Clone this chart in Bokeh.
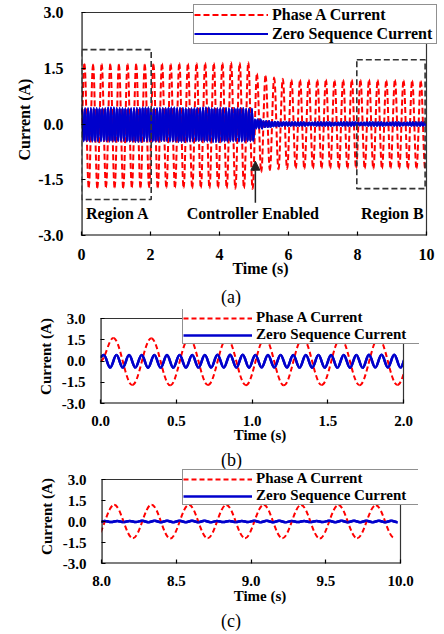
from bokeh.plotting import figure
from bokeh.models import (Legend, LegendItem, Arrow, NormalHead, FixedTicker, Div,
                          Range1d, PrintfTickFormatter)
from bokeh.embed import file_html
from bokeh.resources import INLINE
from bokeh.core.properties import value

# ---------------- data ----------------
FREQ_A = 4.0          # Hz, phase A current
FREQ_Z = 12.0         # Hz, zero sequence current
A_FIRST_PEAK = 0.085  # s
Z_FIRST_PEAK = 0.022  # s
BLOCK = 0.25          # s, one phase-A cycle

# phase A positive peaks, one per cycle (40 cycles over 10 s)
phase_a_peaks = [1.62, 1.60, 1.62, 1.61, 1.60, 1.62, 1.61, 1.60,
                 1.61, 1.63, 1.62, 1.64, 1.63, 1.64, 1.65, 1.64, 1.65, 1.66, 1.65, 1.66,
                 1.36, 1.30, 1.25, 1.22, 1.20, 1.19, 1.20, 1.19, 1.20, 1.18,
                 1.19, 1.20, 1.19, 1.20, 1.19, 1.18, 1.19, 1.18, 1.17, 1.16]
# phase A negative peaks, one per cycle
phase_a_troughs = [-1.70, -1.72, -1.70, -1.71, -1.72, -1.70, -1.71, -1.70,
                   -1.71, -1.72, -1.71, -1.72, -1.73, -1.72, -1.73, -1.72, -1.73, -1.74, -1.73, -1.75,
                   -1.30, -1.24, -1.22, -1.21, -1.20, -1.21, -1.20, -1.19, -1.20, -1.21,
                   -1.20, -1.19, -1.20, -1.21, -1.20, -1.19, -1.20, -1.21, -1.20, -1.19]
# zero sequence envelope, one value per 0.25 s block
zero_peaks = [0.42, 0.43, 0.42, 0.44, 0.43, 0.42, 0.43, 0.44, 0.42, 0.43,
              0.44, 0.43, 0.42, 0.43, 0.44, 0.42, 0.43, 0.42, 0.43, 0.41,
              0.12, 0.08, 0.06, 0.05, 0.05, 0.05, 0.04, 0.05, 0.05, 0.04,
              0.05, 0.05, 0.04, 0.05, 0.05, 0.04, 0.05, 0.04, 0.05, 0.05]
zero_troughs = [-0.46, -0.47, -0.46, -0.47, -0.46, -0.47, -0.48, -0.46, -0.47, -0.46,
                -0.47, -0.48, -0.47, -0.46, -0.47, -0.48, -0.47, -0.46, -0.47, -0.46,
                -0.12, -0.08, -0.06, -0.05, -0.05, -0.05, -0.04, -0.05, -0.05, -0.04,
                -0.05, -0.05, -0.04, -0.05, -0.05, -0.04, -0.05, -0.04, -0.05, -0.05]

region_a = dict(left=0.0, right=2.02, bottom=-2.03, top=2.0)
region_b = dict(left=7.98, right=9.96, bottom=-1.74, top=1.73)
annot_labels = ["Region A", "Controller Enabled", "Region B"]
annot_x = [1.05, 4.97, 9.01]
annot_y = [-2.41, -2.41, -2.41]
arrow_x, arrow_y0, arrow_y1 = 5.04, -2.12, -1.0

y_ticks = [-3.0, -1.5, 0.0, 1.5, 3.0]
x_ticks_a = [0, 2, 4, 6, 8, 10]
x_ticks_b = [0.0, 0.5, 1.0, 1.5, 2.0]
x_ticks_c = [8.0, 8.5, 9.0, 9.5, 10.0]
captions = ["(a)", "(b)", "(c)"]

RED = "#FF0000"
BLUE = "#0000CC"
FONT = "Liberation Serif"


# ---------------- extrema sequences ----------------
def phase_a_extrema():
    t, v = [0.0], [0.0]
    half = 0.5 / FREQ_A
    for k in range(len(phase_a_peaks)):
        tp = A_FIRST_PEAK + k / FREQ_A
        t += [tp, tp + half]
        v += [phase_a_peaks[k], phase_a_troughs[k]]
    return t, v


def zero_extrema():
    t, v = [0.0], [0.3]
    half = 0.5 / FREQ_Z
    n = int(10 * FREQ_Z)
    for j in range(n):
        tp = Z_FIRST_PEAK + j / FREQ_Z
        b = min(int(tp / BLOCK), len(zero_peaks) - 1)
        bt = min(int((tp + half) / BLOCK), len(zero_troughs) - 1)
        t += [tp, tp + half]
        v += [zero_peaks[b], zero_troughs[bt]]
    return t, v


def bezier_cols(t, v, lo, hi):
    k = 0.3634
    cols = dict(x0=[], y0=[], x1=[], y1=[], cx0=[], cy0=[], cx1=[], cy1=[])
    for i in range(len(t) - 1):
        if t[i + 1] < lo or t[i] > hi:
            continue
        dt = t[i + 1] - t[i]
        cols["x0"].append(t[i]); cols["y0"].append(v[i])
        cols["x1"].append(t[i + 1]); cols["y1"].append(v[i + 1])
        cols["cx0"].append(t[i] + k * dt); cols["cy0"].append(v[i])
        cols["cx1"].append(t[i + 1] - k * dt); cols["cy1"].append(v[i + 1])
    return cols


A_EXT = phase_a_extrema()
Z_EXT = zero_extrema()


def make_panel(height, xr, xticks, xfmt, box, frame_ext, fs,
               legend_loc, leg_glyph_w, leg_label_w, leg_row_h, red_dash, red_w, blue_w,
               tick_standoff, xlab_standoff, ylab_standoff, ytick_standoff):
    # box: pixel edges of the real axes box (left, right, top, bottom) inside this figure
    # frame_ext: pixel (right, top) of the enlarged drawing frame that also holds the legend
    left, right, top, bottom = box
    ext_right, ext_top = frame_ext
    x0, x1 = xr
    xmax = x0 + (x1 - x0) * (ext_right - left) / (right - left)
    ymax = -3 + 6 * (bottom - ext_top) / (bottom - top)
    p = figure(width=444, height=height, output_backend="svg", toolbar_location=None,
               x_range=Range1d(x0, xmax), y_range=Range1d(-3, ymax),
               min_border_left=left, min_border_right=444 - ext_right,
               min_border_top=ext_top, min_border_bottom=height - bottom)
    p.grid.visible = False
    p.outline_line_color = None

    zb = bezier_cols(*Z_EXT, x0, x1)
    ab = bezier_cols(*A_EXT, x0, x1)
    rz = p.bezier(source=dict(zb), x0="x0", y0="y0", x1="x1", y1="y1",
                  cx0="cx0", cy0="cy0", cx1="cx1", cy1="cy1",
                  line_color=BLUE, line_width=blue_w)
    ra = p.bezier(source=dict(ab), x0="x0", y0="y0", x1="x1", y1="y1",
                  cx0="cx0", cy0="cy0", cx1="cx1", cy1="cy1",
                  line_color=RED, line_width=red_w, line_dash=red_dash)
    p.bezier(source=dict(zb), x0="x0", y0="y0", x1="x1", y1="y1",
             cx0="cx0", cy0="cy0", cx1="cx1", cy1="cy1",
             line_color=BLUE, line_width=blue_w)

    # white mask beyond the right end of the time axis
    p.quad(left=[x1], right=[x1 + (x1 - x0)], bottom=[-10], top=[10],
           fill_color="white", line_color="white", line_width=1)
    # axes box
    p.segment(x0=[x0, x0], y0=[-3, -3], x1=[x1, x0], y1=[-3, 3],
              line_color="black", line_width=2.2)
    p.segment(x0=[x0, x1], y0=[3, -3], x1=[x1, x1], y1=[3, 3],
              line_color="#333333", line_width=1.2)

    for ax in (p.xaxis[0], p.yaxis[0]):
        ax.major_tick_in = 4
        ax.major_tick_out = 0
        ax.minor_tick_line_color = None
        ax.major_tick_line_width = 1.2
        ax.axis_line_color = None
        ax.major_label_text_font = FONT
        ax.major_label_text_font_style = "bold"
        ax.major_label_text_font_size = f"{fs}px"
        ax.major_label_text_color = "black"
        ax.axis_label_text_font = FONT
        ax.axis_label_text_font_style = "bold"
        ax.axis_label_text_font_size = f"{fs}px"
        ax.axis_label_text_color = "black"

    p.xaxis.ticker = FixedTicker(ticks=xticks)
    p.xaxis.formatter = PrintfTickFormatter(format=xfmt)
    p.xaxis.axis_label = "Time (s)"
    p.xaxis.major_label_standoff = tick_standoff
    p.xaxis.axis_label_standoff = xlab_standoff

    p.yaxis.ticker = FixedTicker(ticks=y_ticks)
    p.yaxis.formatter = PrintfTickFormatter(format="%.1f")
    p.yaxis.axis_label = "Current (A)"
    p.yaxis.major_label_standoff = ytick_standoff
    p.yaxis.axis_label_standoff = ylab_standoff

    legend = Legend(items=[LegendItem(label="Phase A Current", renderers=[ra]),
                           LegendItem(label="Zero Sequence Current", renderers=[rz])],
                    location=legend_loc, padding=0, spacing=0, margin=0,
                    glyph_width=leg_glyph_w, glyph_height=leg_row_h, label_height=leg_row_h,
                    label_width=leg_label_w, label_standoff=4,
                    label_text_font=FONT, label_text_font_style="bold",
                    label_text_font_size=f"{fs}px", label_text_color="black",
                    label_text_line_height=1.0,
                    border_line_color="#222222", border_line_width=1.3,
                    background_fill_color="white", background_fill_alpha=1.0)
    p.add_layout(legend, "center")
    return p


def caption_div(text, height, shift):
    html = ('<div style="position:relative; left:221px; top:%dpx; '
            'font-family:\'Liberation Serif\'; font-size:18px; line-height:20px; '
            'color:black; white-space:nowrap;">%s</div>') % (shift, text)
    return Div(text=html, width=444, height=height, margin=0,
               styles={"overflow": "visible"})


# panel (a): figure y 0..286; axes box 81..426 x 12..235
pa = make_panel(286, (0, 10), x_ticks_a, "%d", (81, 426, 12, 235), (439, 3), 16,
                (112, 191), 74, 164, 19, "6 3", 2, 2.2,
                13, -3, 2, 18)
for rg in (region_a, region_b):
    pa.quad(left=[rg["left"]], right=[rg["right"]], bottom=[rg["bottom"]], top=[rg["top"]],
            fill_alpha=0, line_color="#333333", line_width=1.6, line_dash="6 3")
pa.text(x=annot_x, y=annot_y, text=annot_labels, text_font=value(FONT),
        text_font_style="bold", text_font_size="16px", text_align="center",
        text_baseline="middle", text_color="black")
pa.add_layout(Arrow(end=NormalHead(size=9, fill_color="#222222", line_color="#222222"),
                    x_start=arrow_x, y_start=arrow_y0, x_end=arrow_x, y_end=arrow_y1,
                    line_color="#222222", line_width=1.5))
cap_a = caption_div(captions[0], 23, 1)

# panel (b): figure y 309..449; axes box 100..403 x 318..403
pb = make_panel(140, (0, 2), x_ticks_b, "%.1f", (100, 403, 9, 94), (419, 0), 15,
                (82, 59), 69, 163, 16, "5 3", 2, 2.5,
                12, -2, 5, 15)
cap_b = caption_div(captions[1], 20, 1)

# panel (c): figure y 469..614; axes box 101..400 x 479..563
pc = make_panel(145, (8, 10), x_ticks_c, "%.1f", (101, 400, 10, 94), (418, 0), 15,
                (81, 58), 69, 163, 16, "5 3", 2, 2.5,
                12, -1, 5, 15)
cap_c = caption_div(captions[2], 20, -3)

open("out.html", "w").write(file_html([pa, cap_a, pb, cap_b, pc, cap_c], INLINE))
